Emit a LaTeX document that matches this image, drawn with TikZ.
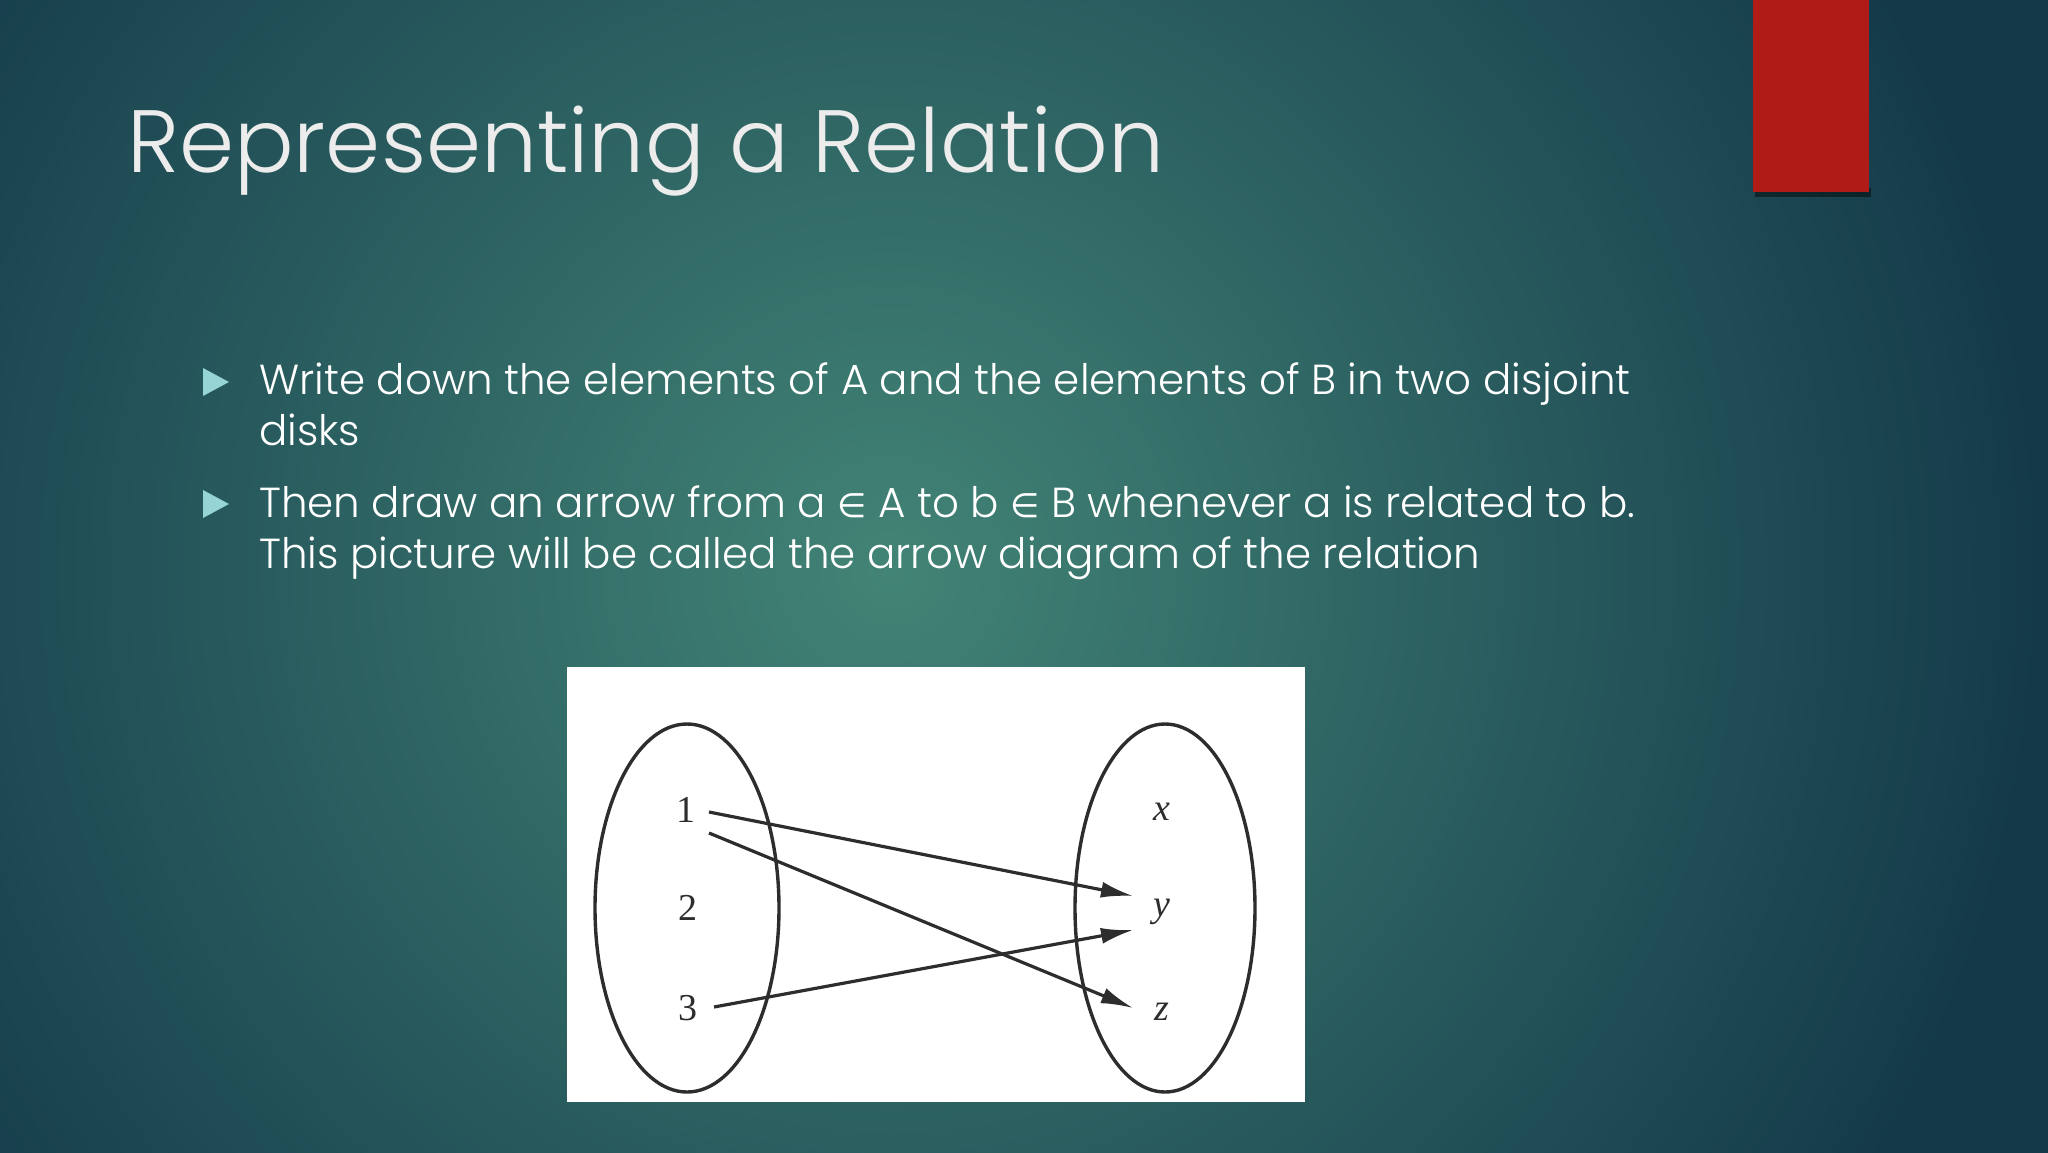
\documentclass[tikz,border=0pt]{standalone}
\usepackage{fontspec}
\setmainfont{Poppins}[UprightFont=* Light]
\newfontfamily\timesf{Liberation Serif}
\newfontfamily\symf{DejaVu Sans}[Scale=0.8]
\usetikzlibrary{arrows.meta}
\definecolor{bgdark}{RGB}{20,58,74}
\definecolor{bglight}{RGB}{66,132,118}
\definecolor{titlecol}{RGB}{236,236,236}
\definecolor{bulletcol}{RGB}{150,212,214}
\definecolor{redbar}{RGB}{176,26,23}
\definecolor{ink}{RGB}{45,45,45}
\tikzset{
  titletext/.style={anchor=base west, inner sep=0pt, text=titlecol, font=\fontsize{88.5}{100}\selectfont},
  bodytext/.style={anchor=base west, inner sep=0pt, text=white, font=\fontsize{42}{50}\selectfont},
  bullettri/.style={fill=bulletcol, draw=none},
  setdisk/.style={draw=ink, line width=3.4pt},
  elem/.style={inner sep=0pt, text=ink, font=\timesf\fontsize{38}{40}\selectfont},
  relarrow/.style={draw=ink, line width=3.2pt, -{Latex[length=32pt,width=16pt]}}
}
\begin{document}
\begin{tikzpicture}[x=1pt,y=-1pt]
\useasboundingbox (0,0) rectangle (2048,1152);
% background
\fill[bgdark] (-10,-10) rectangle (2058,1162);
\shade[inner color=bglight, outer color=bgdark] (890,570) circle (1150);
% red bar with shadow
\fill[black, opacity=0.45] (1755,188) rectangle (1871,197);
\fill[redbar] (1753,0) rectangle (1869,192);
% title
\node[titletext] (title) at (127,172) {Representing a Relation};
% bullets
\fill[bullettri] (203,368) -- (229,382) -- (203,396) -- cycle;
\fill[bullettri] (203,490) -- (229,504) -- (203,518) -- cycle;
\node[bodytext] (l1) at (259,394) {Write down the elements of A and the elements of B in two disjoint};
\node[bodytext] (l2) at (259,445) {disks};
\node[bodytext] (l3) at (259,517) {Then draw an arrow from a {\symf ∈} A to b {\symf ∈} B whenever a is related to b.};
\node[bodytext] (l4) at (259,568) {This picture will be called the arrow diagram of the relation};
% diagram
\fill[white] (567,667) rectangle (1305,1102);
\draw[setdisk] (687,908) ellipse [x radius=92, y radius=184];
\draw[setdisk] (1165,908) ellipse [x radius=90, y radius=184];
\node[elem] (n1) at (686,810) {1};
\node[elem] (n2) at (688,908) {2};
\node[elem] (n3) at (688,1008) {3};
\node[elem] (nx) at (1162,812) {\itshape x};
\node[elem] (ny) at (1162,912) {\itshape y};
\node[elem] (nz) at (1162,1012) {\itshape z};
\coordinate (s1a) at (709,812);
\coordinate (s1b) at (709,833);
\coordinate (s3) at (714,1007);
\coordinate (ty1) at (1133,896);
\coordinate (ty3) at (1133,930);
\coordinate (tz) at (1133,1008);
\draw[relarrow] (s1a) -- (ty1);
\draw[relarrow] (s1b) -- (tz);
\draw[relarrow] (s3) -- (ty3);
\end{tikzpicture}
\end{document}
